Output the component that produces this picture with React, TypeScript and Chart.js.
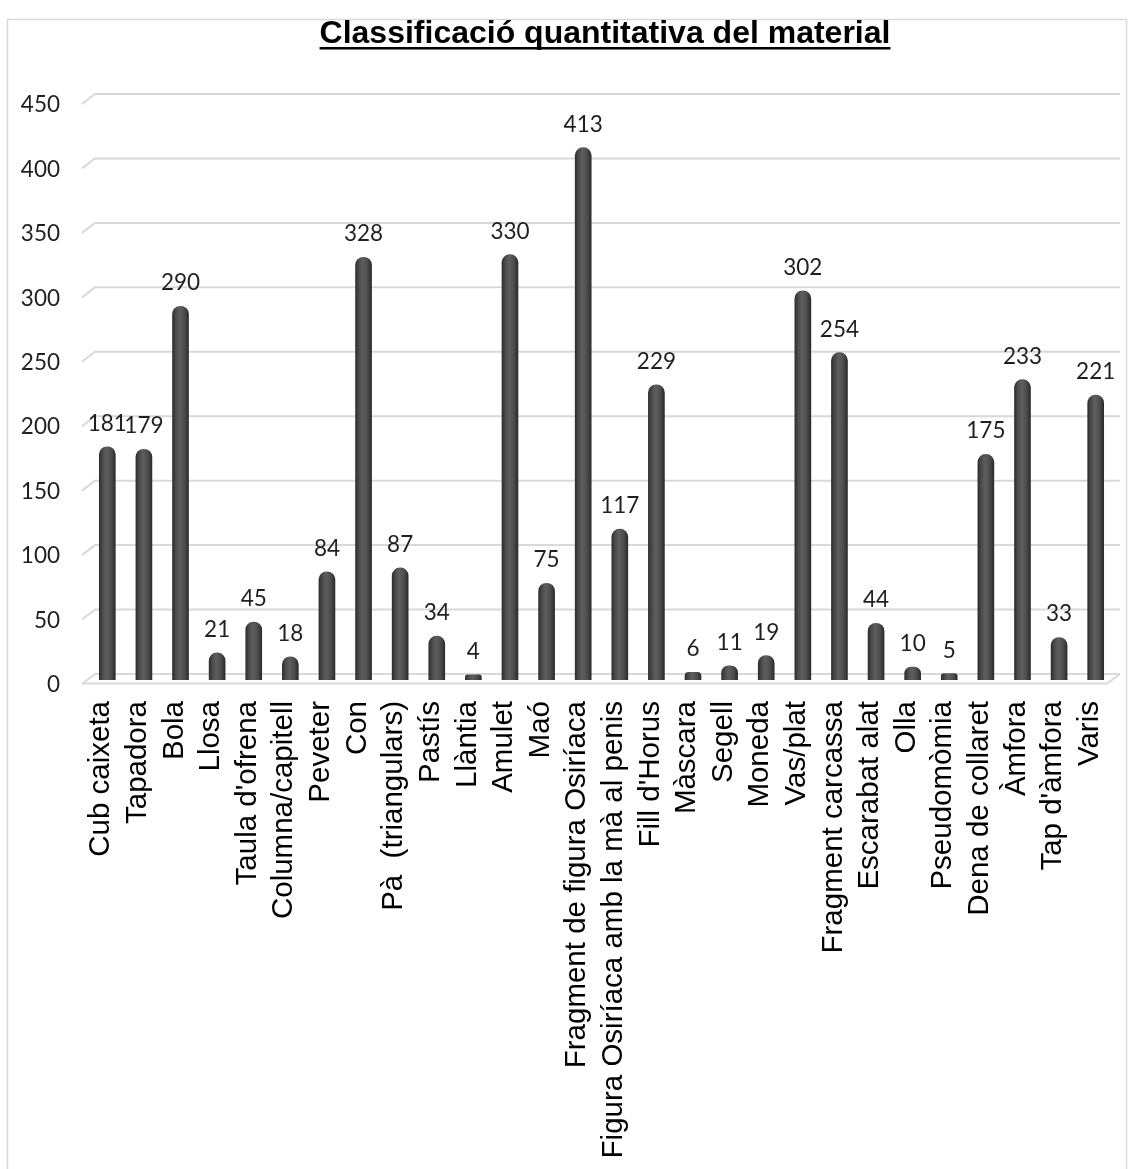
import React, { useEffect, useRef } from 'react';
import { Chart, registerables } from 'chart.js';

Chart.register(...registerables);

const TITLE = 'Classificació quantitativa del material';

const categories = [
  'Cub caixeta',
  'Tapadora',
  'Bola',
  'Llosa',
  "Taula d'ofrena",
  'Columna/capitell',
  'Peveter',
  'Con',
  'Pà  (triangulars)',
  'Pastís',
  'Llàntia',
  'Amulet',
  'Maó',
  'Fragment de figura Osiríaca',
  'Figura Osiríaca amb la mà al penis',
  "Fill d'Horus",
  'Màscara',
  'Segell',
  'Moneda',
  'Vas/plat',
  'Fragment carcassa',
  'Escarabat alat',
  'Olla',
  'Pseudomòmia',
  'Dena de collaret',
  'Àmfora',
  "Tap d'àmfora",
  'Varis',
];

const values = [
  181, 179, 290, 21, 45, 18, 84, 328, 87, 34, 4, 330, 75, 413, 117, 229, 6, 11,
  19, 302, 254, 44, 10, 5, 175, 233, 33, 221,
];

const yMin = 0;
const yMax = 450;
const yStep = 50;

const GRID = '#d9d9d9';
const DEPTH_X = 6;
const DEPTH_Y = 6;

const framePlugin = {
  id: 'frame',
  beforeDraw(chart: any) {
    const ctx = chart.ctx;
    ctx.save();
    ctx.fillStyle = '#ffffff';
    ctx.fillRect(0, 0, chart.width, chart.height);
    ctx.strokeStyle = '#d9d9d9';
    ctx.lineWidth = 1.5;
    ctx.strokeRect(7.5, 19.5, 1119, 1170);
    ctx.font = "bold 32px 'Liberation Sans', Arial, sans-serif";
    ctx.fillStyle = '#000000';
    ctx.textAlign = 'center';
    ctx.textBaseline = 'alphabetic';
    const cx = 605;
    const by = 43;
    ctx.fillText(TITLE, cx, by);
    const w = ctx.measureText(TITLE).width;
    ctx.fillRect(cx - w / 2, by + 4, w, 2.5);
    ctx.restore();
  },
};

const gridPlugin = {
  id: 'grid3d',
  beforeDatasetsDraw(chart: any) {
    const ctx = chart.ctx;
    const ys = chart.scales.y;
    const area = chart.chartArea;
    const backL = area.left + DEPTH_X;
    const backR = area.right + DEPTH_X;
    ctx.save();
    ctx.strokeStyle = GRID;
    ctx.lineWidth = 2;
    for (let v = yMin; v <= yMax; v += yStep) {
      const y = ys.getPixelForValue(v) - DEPTH_Y;
      ctx.beginPath();
      ctx.moveTo(backL - 13, y + 10);
      ctx.lineTo(backL, y);
      ctx.lineTo(backR, y);
      ctx.stroke();
    }
    const y0 = ys.getPixelForValue(0) - DEPTH_Y;
    ctx.beginPath();
    ctx.moveTo(backL - 13, y0 + 9.5);
    ctx.lineTo(backR - 13, y0 + 9.5);
    ctx.lineTo(backR, y0);
    ctx.stroke();
    ctx.restore();
  },
};

const labelPlugin = {
  id: 'valueLabels',
  afterDatasetsDraw(chart: any) {
    const ctx = chart.ctx;
    const meta = chart.getDatasetMeta(0);
    ctx.save();
    ctx.font = "22.5px Lato, 'Open Sans', sans-serif";
    ctx.fillStyle = '#1f1f1f';
    ctx.textAlign = 'center';
    ctx.textBaseline = 'alphabetic';
    meta.data.forEach((bar: any, i: number) => {
      ctx.fillText(String(values[i]), bar.x, bar.y - 16);
    });
    ctx.restore();
  },
};

export default function App() {
  const ref = useRef<HTMLCanvasElement | null>(null);

  useEffect(() => {
    document.body.style.margin = '0';
    const canvas = ref.current;
    if (!canvas) return;
    const chart = new Chart(canvas, {
      type: 'bar',
      data: {
        labels: categories,
        datasets: [
          {
            data: values,
            barThickness: 16,
            borderRadius: 8,
            borderSkipped: 'start',
            backgroundColor: (c: any) => {
              const ch = c.chart;
              if (!ch.chartArea || !ch.scales || !ch.scales.x) return '#4a4a4a';
              const x = ch.scales.x.getPixelForValue(c.dataIndex);
              const g = ch.ctx.createLinearGradient(x - 8, 0, x + 8, 0);
              g.addColorStop(0, '#2e2e2e');
              g.addColorStop(0.2, '#4a4a4a');
              g.addColorStop(0.45, '#5e5e5e');
              g.addColorStop(0.75, '#4c4c4c');
              g.addColorStop(1, '#2b2b2b');
              return g;
            },
          },
        ],
      },
      options: {
        responsive: false,
        animation: false,
        layout: { padding: { top: 100, right: 15, left: 0, bottom: 0 } },
        plugins: {
          legend: { display: false },
          title: { display: false },
          tooltip: { enabled: false },
        },
        scales: {
          x: {
            grid: { display: false },
            border: { display: false },
            ticks: {
              autoSkip: false,
              maxRotation: 90,
              minRotation: 90,
              padding: 13,
              labelOffset: -6,
              color: '#000000',
              font: { family: "'Liberation Sans', Arial, sans-serif", size: 29.5 },
            },
            afterFit: (s: any) => {
              s.height = 489;
              s.paddingLeft = 0;
              s.paddingRight = 0;
            },
          },
          y: {
            min: yMin,
            max: yMax,
            grid: { display: false, drawTicks: false },
            border: { display: false },
            ticks: {
              stepSize: yStep,
              padding: 29,
              labelOffset: 5,
              color: '#1f1f1f',
              font: { family: "Lato, 'Open Sans', sans-serif", size: 22.5 },
            },
            afterFit: (s: any) => {
              s.width = 89;
              s.paddingTop = 0;
              s.paddingBottom = 0;
            },
          },
        },
      },
      plugins: [framePlugin, gridPlugin, labelPlugin],
    });
    return () => chart.destroy();
  }, []);

  return (
    <div style={{ position: 'absolute', left: 0, top: 0, width: 1129, height: 1169 }}>
      <canvas ref={ref} width={1129} height={1169} style={{ width: 1129, height: 1169 }} />
    </div>
  );
}
